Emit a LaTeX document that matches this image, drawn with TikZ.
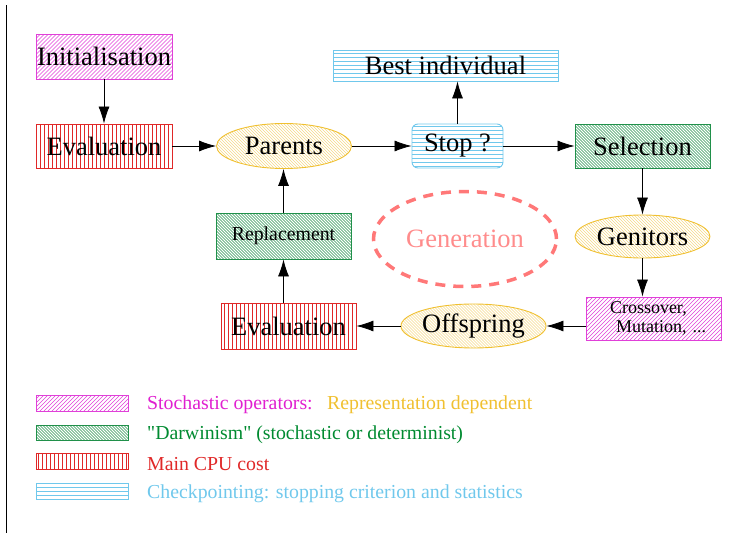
\documentclass[tikz,border=0pt]{standalone}
\usepackage{fontspec}
\setmainfont{Liberation Serif}[Ligatures=TeXOff]
\usetikzlibrary{shapes.geometric,arrows.meta}
\definecolor{cmag}{HTML}{E040D8}
\definecolor{cmagt}{HTML}{E020D0}
\definecolor{cgrn}{HTML}{20904A}
\definecolor{cgrnt}{HTML}{008A30}
\definecolor{cred}{HTML}{E02828}
\definecolor{ccyan}{HTML}{70C8EC}
\definecolor{cyel}{HTML}{F0C030}
\definecolor{cyelp}{HTML}{F4D888}
\definecolor{cpink}{HTML}{FF7878}
\tikzset{
  big/.style={font=\fontsize{26.5}{30}\selectfont},
  hatchNE/.style 2 args={path picture={\foreach \i in {-170,-166,...,170}
     \draw[#1,line width=#2] ([xshift=\i pt]path picture bounding box.center) ++(-60,60) -- ++(120,-120);}},
  hatchNW/.style n args={3}{path picture={\foreach \i in {-170,-167,...,170}
     \draw[#1,line width=#2] ([xshift=\i pt]path picture bounding box.center) ++(-60,-60) -- ++(120,120);}},
  hatchV/.style={path picture={\foreach \i in {-120,-116,...,120}
     \draw[#1,line width=0.8pt] ([xshift=\i pt]path picture bounding box.center) ++(0,-40) -- ++(0,80);}},
  hatchH/.style={path picture={\foreach \i in {-40,-36,...,40}
     \draw[#1,line width=0.9pt] ([yshift=\i pt]path picture bounding box.center) ++(-130,0) -- ++(260,0);}},
  magbox/.style={draw=cmag,line width=0.9pt,hatchNE={cmag}{0.5pt},inner sep=0pt},
  grnbox/.style={draw=cgrn,line width=0.9pt,hatchNW={cgrn}{0.5pt}{3},inner sep=0pt},
  redbox/.style={draw=cred,line width=0.9pt,hatchV=cred,inner sep=0pt},
  cyanbox/.style={draw=ccyan,line width=0.9pt,hatchH=ccyan,inner sep=0pt},
  yelell/.style={ellipse,draw=cyel,line width=0.9pt,hatchNW={cyelp}{0.45pt}{3},inner sep=0pt},
  arr/.style={-{Latex[length=17pt,width=11pt]},line width=0.8pt},
  legtxt/.style={anchor=west,font=\fontsize{19.8}{22}\selectfont,inner sep=0pt}
}
\begin{document}
\begin{tikzpicture}[x=1pt,y=-1pt]
\useasboundingbox (0,0) rectangle (748,533);
\draw[line width=1pt] (6.5,5) -- (6.5,533);
% nodes
\node[magbox,big,minimum width=136pt,minimum height=45pt] (init) at (104,56.5) {Initialisation};
\node[redbox,big,minimum width=136pt,minimum height=44pt] (eval1) at (104,146) {Evaluation};
\node[yelell,big,minimum width=135pt,minimum height=45pt] (parents) at (284,146) {Parents};
\node[cyanbox,big,minimum width=225pt,minimum height=31pt] (best) at (445.5,65.5) {Best individual};
\node[cyanbox,big,rounded corners=6pt,minimum width=91pt,minimum height=44pt] (stop) at (457.5,146) {Stop ?};
\node[grnbox,big,minimum width=135pt,minimum height=44pt] (sel) at (642.5,146) {Selection};
\node[yelell,big,minimum width=135pt,minimum height=43pt] (gen) at (642.5,236.5) {Genitors};
\node[magbox,align=left,text width=121pt,font=\fontsize{18}{19}\selectfont,minimum width=135pt,minimum height=43pt] (cross) at (653.5,318.5) {\hspace*{17pt}Crossover,\\\hspace*{23pt}Mutation, ...};
\node[yelell,big,minimum width=135pt,minimum height=44pt] (off) at (473.5,326) {Offspring};
\node[redbox,big,minimum width=135pt,minimum height=46pt] (eval2) at (288.5,326) {Evaluation};
\node[grnbox,font=\fontsize{19.8}{22}\selectfont,minimum width=135pt,minimum height=46pt] (repl) at (283.5,236) {Replacement};
\node[ellipse,draw=cpink,line width=3.5pt,dash pattern=on 10pt off 8pt,minimum width=183pt,minimum height=95pt,inner sep=0pt,text=cpink!85!white,big] (genr) at (465,239) {Generation};
% arrows
\draw[arr] (init) -- (eval1);
\draw[arr] (eval1) -- (parents);
\draw[arr] (parents) -- (stop);
\draw[arr] (stop) -- (stop.north |- best.south);
\draw[arr] (stop) -- (sel);
\draw[arr] (sel) -- (gen);
\draw[arr] (gen) -- (gen.south |- cross.north);
\draw[arr] (cross.west |- off.east) -- (off);
\draw[arr] (off) -- (eval2);
\draw[arr] (eval2.north -| repl.south) -- (repl);
\draw[arr] (repl) -- (repl.north |- parents.south);
% legend
\node[magbox,minimum width=92pt,minimum height=16pt] (l1) at (82,403) {};
\node[grnbox,minimum width=92pt,minimum height=15pt] (l2) at (82,432.5) {};
\node[redbox,minimum width=92pt,minimum height=16pt] (l3) at (82,461) {};
\node[cyanbox,minimum width=92pt,minimum height=16pt] (l4) at (82,491.5) {};
\node[legtxt,text=cmagt] (t1) at (147,405) {Stochastic operators:};
\node[legtxt,text=cyel] (t1b) at (327,405) {Representation dependent};
\node[legtxt,text=cgrnt] (t2) at (147,434.5) {"Darwinism" (stochastic or determinist)};
\node[legtxt,text=cred] (t3) at (147,464) {Main CPU cost};
\node[legtxt,text=ccyan] (t4) at (147,493.5) {Checkpointing: stopping criterion and statistics};
\end{tikzpicture}
\end{document}
